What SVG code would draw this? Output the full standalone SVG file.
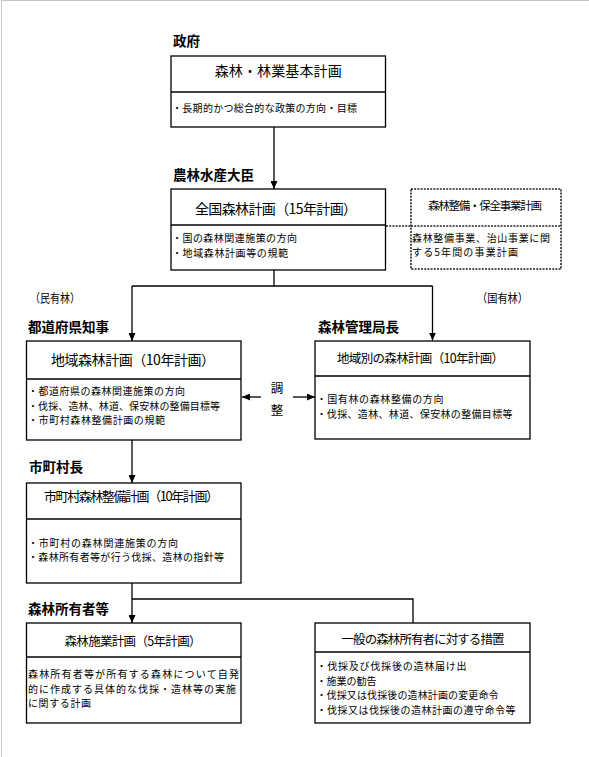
<svg xmlns="http://www.w3.org/2000/svg" width="589" height="757" viewBox="0 0 589 757">
<style>
text{font-family:"Noto Sans CJK JP","Noto Sans",sans-serif;fill:#000}
.lbl{font-size:13.5px;font-weight:bold}
.ttl{text-anchor:middle}
.b{font-size:10px}
.box{fill:#fff;stroke:#000;stroke-width:1.3}
.dv{stroke:#000;stroke-width:1.3}
.dot{fill:none;stroke:#222;stroke-width:1.6;stroke-dasharray:2 1.2}
.con{fill:none;stroke:#000;stroke-width:1.3}
</style>
<defs>
<marker id="ah" markerUnits="userSpaceOnUse" markerWidth="8" markerHeight="7" refX="8" refY="3.5" orient="auto">
<path d="M0,0 L8,3.5 L0,7 z" fill="#000"/>
</marker>
</defs>
<rect width="589" height="757" fill="#fff"/>
<path d="M1.5,757 V0.5 H589" fill="none" stroke="#c4c4c4" stroke-width="1"/>

<g id="connectors">
<path class="con" d="M274,127 V189" marker-end="url(#ah)"/>
<path class="con" d="M274,270 V286 M132,286 H432.5"/>
<path class="con" d="M132,286 V341" marker-end="url(#ah)"/>
<path class="con" d="M432.5,286 V340.5" marker-end="url(#ah)"/>
<path class="con" d="M132,440 V483" marker-end="url(#ah)"/>
<path class="con" d="M132,583 V623" marker-end="url(#ah)"/>
<path class="con" d="M132,599 H413 V623"/>
<path class="con" d="M261,397 H242" marker-end="url(#ah)"/>
<path class="con" d="M293,397 H315" marker-end="url(#ah)"/>
<path class="dot" d="M386,226 H411"/>
</g>

<g id="labels">
<text class="lbl" x="173" y="45.5">政府</text>
<text class="lbl" x="173" y="179.5">農林水産大臣</text>
<text x="30" y="303" font-size="12" textLength="50" lengthAdjust="spacingAndGlyphs">（民有林）</text>
<text x="477" y="303" font-size="12" textLength="51" lengthAdjust="spacingAndGlyphs">（国有林）</text>
<text class="lbl" x="28" y="332">都道府県知事</text>
<text class="lbl" x="318" y="332">森林管理局長</text>
<text class="lbl" x="29" y="472">市町村長</text>
<text class="lbl" x="28" y="614">森林所有者等</text>
<text x="277" y="393" font-size="12.5" text-anchor="middle">調</text>
<text x="277" y="415" font-size="12.5" text-anchor="middle">整</text>
</g>

<g id="node-kihon">
<rect class="box" x="171" y="56" width="214.5" height="71"/>
<line class="dv" x1="171" y1="92" x2="385.5" y2="92"/>
<text class="ttl" x="278.2" y="75.5" font-size="14" textLength="127">森林・林業基本計画</text>
<text class="b" x="172" y="112" textLength="185">・長期的かつ総合的な政策の方向・目標</text>
</g>

<g id="node-zenkoku">
<rect class="box" x="171" y="189" width="214.5" height="81"/>
<line class="dv" x1="171" y1="225" x2="385.5" y2="225"/>
<text class="ttl" x="276" y="214" font-size="14" textLength="162">全国森林計画（15年計画）</text>
<text class="b" x="172" y="242" textLength="125">・国の森林関連施策の方向</text>
<text class="b" x="172" y="256.5" textLength="116">・地域森林計画等の規範</text>
</g>

<g id="node-hozen">
<rect class="dot" x="411" y="189" width="150" height="80"/>
<line class="dot" x1="411" y1="226" x2="561" y2="226"/>
<text class="ttl" x="485" y="209.5" font-size="11.5" textLength="114">森林整備・保全事業計画</text>
<text class="b" x="412" y="241.5" textLength="138">森林整備事業、治山事業に関</text>
<text class="b" x="412" y="256" textLength="106">する5年間の事業計画</text>
</g>

<g id="node-chiiki">
<rect class="box" x="26.5" y="341" width="214.5" height="99"/>
<line class="dv" x1="26.5" y1="379" x2="241" y2="379"/>
<text class="ttl" x="133" y="365" font-size="14" textLength="164">地域森林計画（10年計画）</text>
<text class="b" x="28" y="395" textLength="157">・都道府県の森林関連施策の方向</text>
<text class="b" x="28" y="409.5" textLength="192">・伐採、造林、林道、保安林の整備目標等</text>
<text class="b" x="28" y="424" textLength="137">・市町村森林整備計画の規範</text>
</g>

<g id="node-kokuyu">
<rect class="box" x="315" y="341" width="215" height="98"/>
<line class="dv" x1="315" y1="376" x2="530" y2="376"/>
<text class="ttl" x="420.5" y="362.5" font-size="12.5" textLength="167">地域別の森林計画（10年計画）</text>
<text class="b" x="316.5" y="403" textLength="127">・国有林の森林整備の方向</text>
<text class="b" x="316.5" y="417.5" textLength="196">・伐採、造林、林道、保安林の整備目標等</text>
</g>

<g id="node-shichoson">
<rect class="box" x="26.5" y="483" width="214.5" height="100"/>
<line class="dv" x1="26.5" y1="519" x2="241" y2="519"/>
<text class="ttl" x="131.5" y="501" font-size="13" textLength="175">市町村森林整備計画（10年計画）</text>
<text class="b" x="28" y="546.5" textLength="150">・市町村の森林関連施策の方向</text>
<text class="b" x="28" y="561" textLength="196">・森林所有者等が行う伐採、造林の指針等</text>
</g>

<g id="node-sekyo">
<rect class="box" x="26.5" y="623" width="214.5" height="100"/>
<line class="dv" x1="26.5" y1="657" x2="241" y2="657"/>
<text class="ttl" x="133" y="646" font-size="12.5" textLength="137">森林施業計画（5年計画）</text>
<text class="b" x="28" y="678" textLength="211">森林所有者等が所有する森林について自発</text>
<text class="b" x="28" y="692.5" textLength="208">的に作成する具体的な伐採・造林等の実施</text>
<text class="b" x="28" y="707" textLength="63">に関する計画</text>
</g>

<g id="node-sochi">
<rect class="box" x="315" y="623" width="215" height="100"/>
<line class="dv" x1="315" y1="652" x2="530" y2="652"/>
<text class="ttl" x="423" y="644" font-size="12.5" textLength="163">一般の森林所有者に対する措置</text>
<text class="b" x="316.5" y="670" textLength="150">・伐採及び伐採後の造林届け出</text>
<text class="b" x="316.5" y="684.5" textLength="60">・施業の勧告</text>
<text class="b" x="316.5" y="699" textLength="182">・伐採又は伐採後の造林計画の変更命令</text>
<text class="b" x="316.5" y="713.5" textLength="199">・伐採又は伐採後の造林計画の遵守命令等</text>
</g>
</svg>
